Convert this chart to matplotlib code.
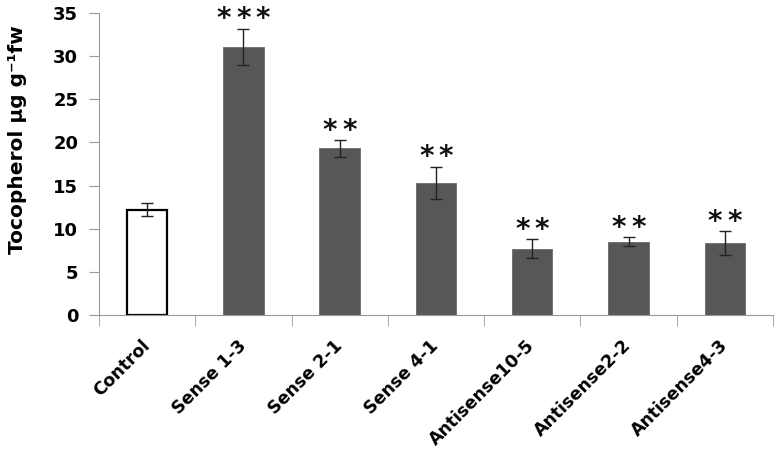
import matplotlib.pyplot as plt
import numpy as np

# values
categories = ['Control', 'Sense 1-3', 'Sense 2-1', 'Sense 4-1',
              'Antisense10-5', 'Antisense2-2', 'Antisense4-3']
tocopherol = [12.2, 31.1, 19.3, 15.3, 7.7, 8.5, 8.35]
errors = [0.75, 2.1, 0.95, 1.9, 1.1, 0.5, 1.35]
stars = [0, 3, 2, 2, 2, 2, 2]

plt.rcParams['font.family'] = ['DejaVu Sans']

fig = plt.figure(figsize=(7.77, 4.57), dpi=100)
ax = fig.add_axes([0.1274, 0.3107, 0.8674, 0.6608])

x = np.arange(len(categories))
n = len(categories)
colors = ['white'] + ['#575757'] * (n - 1)
edges = ['black'] + ['#6a6a6a'] * (n - 1)
ax.bar(x, tocopherol, width=0.42, color=colors, edgecolor=edges,
       linewidth=[1.6] + [0.6] * (n - 1), zorder=2)
ax.errorbar(x, tocopherol, yerr=errors, fmt='none', ecolor='#222222',
            elinewidth=1.0, capsize=4, capthick=1.0, zorder=3)

# significance stars above the error bars, one text per star
for xi, v, e, k in zip(x, tocopherol, errors, stars):
    for j in range(k):
        dx = (j - (k - 1) / 2) * 14
        ax.annotate('*', (xi, v + e), xytext=(dx, 1), textcoords='offset points',
                    ha='center', va='baseline', fontsize=20, fontweight='bold',
                    color='#111111', annotation_clip=False)

ax.set_xlim(-0.5, n - 0.5)
ax.set_ylim(0, 35)
ax.set_yticks(np.arange(0, 36, 5))
ax.set_xticks(x)
ax.set_xticks(np.arange(-0.5, n, 1), minor=True)
ax.tick_params(axis='x', which='major', length=0, pad=20)
ax.tick_params(axis='x', which='minor', length=8, color='#999999')
ax.tick_params(axis='y', length=7, color='#999999', labelsize=13, pad=8)
ax.set_xticklabels(categories, rotation=45, ha='right', va='center',
                   rotation_mode='anchor', fontsize=12.5, fontweight='bold')
for lab in ax.get_yticklabels():
    lab.set_fontweight('bold')

ax.set_ylabel('Tocopherol µg g⁻¹fw', fontsize=14.5, fontweight='bold')
ax.yaxis.set_label_coords(-0.107, 0.58)

for side in ['top', 'right']:
    ax.spines[side].set_visible(False)
for side in ['left', 'bottom']:
    ax.spines[side].set_color('#999999')

fig.savefig('out.png', dpi=100)
